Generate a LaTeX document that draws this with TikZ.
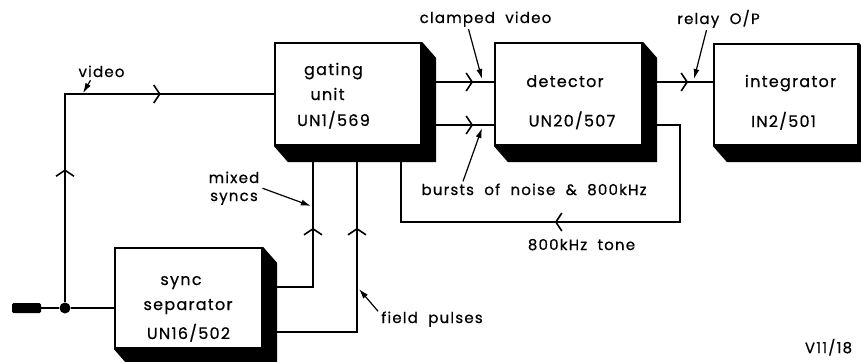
\documentclass[tikz,border=0pt]{standalone}
\usepackage{fontspec}
\setmainfont{Poppins}[LetterSpace=8, FakeBold=0.6]
\newfontfamily\lblfont{Poppins}[LetterSpace=8, FakeBold=0.6, WordSpace=2]
\usetikzlibrary{arrows.meta,decorations.markings,backgrounds}

% solid extrusion behind a unit
\newcommand{\boxshadow}[1]{%
  \fill (#1.north east) -- ([shift={(14,16)}]#1.north east)
    -- ([shift={(14,16)}]#1.south east) -- ([shift={(14,16)}]#1.south west)
    -- (#1.south west) -- (#1.south east) -- cycle;}

\begin{document}
\begin{tikzpicture}[x=1pt, y=-1pt,
  unit/.style={draw, fill=white, line width=2.2pt, inner sep=0pt},
  sig/.style={line width=1.6pt},
  flow/.style={postaction={decorate, decoration={markings,
      mark=at position #1 with {\arrow{Straight Barb[length=6pt,width=18pt,line width=1.6pt]}}}}},
  ptr/.style={line width=1.2pt, -{Latex[length=10pt,width=6pt]}},
  txt/.style={font=\fontsize{16}{18}\selectfont, inner sep=0pt, anchor=base},
  lbl/.style={font=\lblfont\fontsize{15}{18}\selectfont, inner sep=0pt, anchor=base},
  plugbox/.style={fill, rounded corners=1.5pt, minimum width=29, minimum height=10, inner sep=0pt},
  joint/.style={circle, fill, minimum size=11, inner sep=0pt}]
\useasboundingbox (0,0) rectangle (861,361);
\clip (0,0) rectangle (861,361);
% units
\node[unit, minimum width=146, minimum height=102] (gate) at (348,94) {};
\node[unit, minimum width=147, minimum height=102] (det) at (568.5,94) {};
\node[unit, minimum width=144, minimum height=101] (integ) at (786,94.5) {};
\node[unit, minimum width=147, minimum height=100] (syncsep) at (188.5,298) {};
\foreach \u in {gate,det,integ,syncsep}{ \boxshadow{\u} }
% unit texts
\node[txt] (tgating) at (333.5,75) {gating};
\node[txt] (tunit) at (327.5,100) {unit};
\node[txt] (tun1) at (333.5,126) {UN1/569};
\node[txt] (tdet) at (565,87) {detector};
\node[txt] (tun20) at (572,126.5) {UN20/507};
\node[txt] (tinteg) at (790.5,87) {integrator};
\node[txt] (tin2) at (783.5,127) {IN2/501};
\node[txt] (tsync) at (181,285) {sync};
\node[txt] (tsep) at (188,310) {separator};
\node[txt] (tun16) at (188.5,339) {UN16/502};
% input
\node[plugbox] (plug) at (26.5,308) {};
\node[joint] (inpdot) at (65,308) {};
\coordinate (fbk) at (680,222);
% signal lines
\begin{scope}[on background layer]
\draw[sig] (plug) -- (inpdot) -- (inpdot -| syncsep.west);
\draw[sig, flow=133pt, flow=304pt] (inpdot) |- (gate.west);
\draw[sig, flow=51pt] ([yshift=12pt]gate.east) -- ([yshift=12pt]gate.east -| det.west);
\draw[sig, flow=51pt] ([yshift=-31pt]gate.east) -- ([yshift=-31pt]gate.east -| det.west);
\draw[sig, flow=45pt] ([yshift=12pt]det.east) -- ([yshift=12pt]det.east -| integ.west);
\draw[sig, flow=259pt] ([yshift=-31pt]det.east) -| (fbk) -| ([xshift=53pt]gate.south);
\draw[sig, flow=109pt] ([yshift=11pt]syncsep.east) -| ([xshift=-35pt]gate.south);
\draw[sig, flow=198pt] ([yshift=-34pt]syncsep.east) -| ([xshift=9pt]gate.south);
\end{scope}
% labels
\node[lbl] (lvideo) at (101.5,77) {video};
\node[lbl] (lclamp) at (485.5,23) {clamped video};
\node[lbl] (lrelay) at (718.5,24) {relay O/P};
\node[lbl] (lbursts) at (534,195) {bursts of noise \& 800kHz};
\node[lbl] (ltone) at (581.5,250) {800kHz tone};
\node[lbl, align=center] (lmixed) at (234,201) {mixed\\syncs};
\node[lbl] (lfield) at (432,323) {field pulses};
\node[lbl] (lref) at (828.5,353) {V11/18};
\coordinate (pvideo) at (83,93);
\coordinate (pclamp) at (482,79);
\coordinate (prelay) at (694,79);
\coordinate (pbursts) at (482,128);
\coordinate (pmixed) at (311,206);
\coordinate (pfield) at (359,289);
\draw[ptr] ([shift={(-11pt,-3pt)}]lvideo.south) -- (pvideo);
\draw[ptr] ([shift={(-17pt,-2pt)}]lclamp.south) -- (pclamp);
\draw[ptr] ([shift={(-12pt,-2pt)}]lrelay.south) -- (prelay);
\draw[ptr] ([shift={(-71pt,2pt)}]lbursts.north) -- (pbursts);
\draw[ptr] ([xshift=3pt]lmixed.east) -- (pmixed);
\draw[ptr] ([xshift=-3pt]lfield.north west) -- (pfield);
\end{tikzpicture}
\end{document}
